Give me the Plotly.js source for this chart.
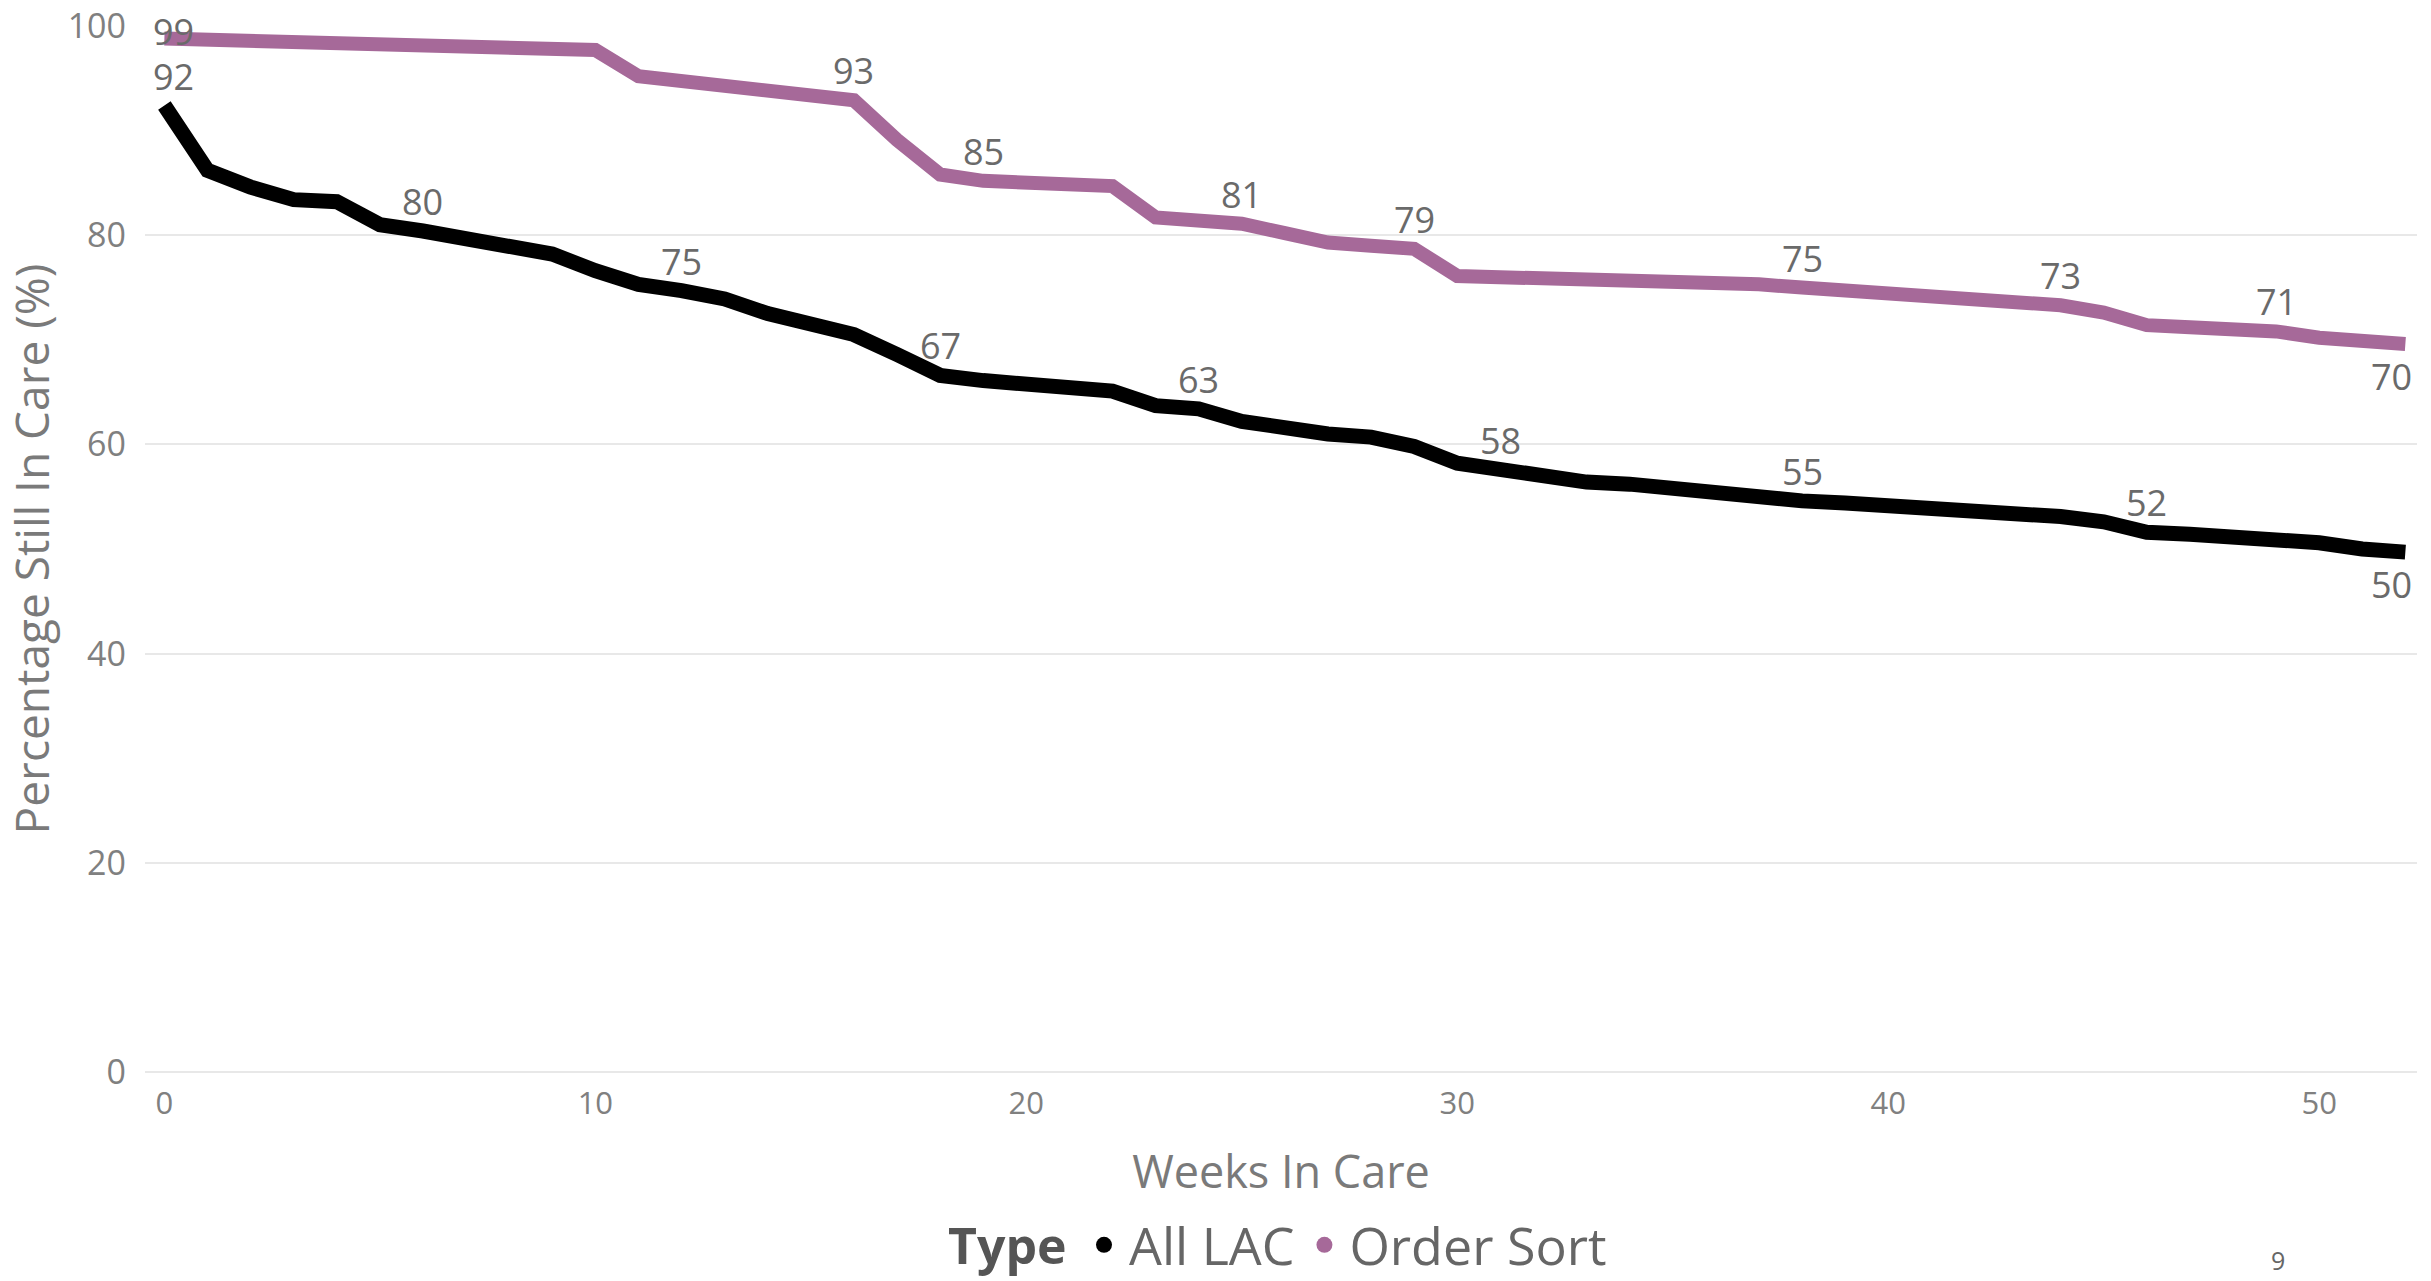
<!DOCTYPE html>
<html>
<head>
<meta charset="utf-8">
<script src="https://cdn.plot.ly/plotly-3.0.1.min.js"></script>
<style>
  html, body { margin: 0; padding: 0; background: #fff; }
  #chart { width: 2431px; height: 1281px; }
</style>
</head>
<body>
<div id="chart"></div>
<script>
// ---- data ----
const weeks = [0,1,2,3,4,5,6,7,8,9,10,11,12,13,14,15,16,17,18,19,20,21,22,23,24,25,26,27,28,29,30,31,32,33,34,35,36,37,38,39,40,41,42,43,44,45,46,47,48,49,50,51,52];

const allLAC = [92.4,86.2,84.6,83.4,83.2,81.0,80.4,79.6,79.0,78.2,76.6,75.3,74.7,73.9,72.5,71.6,70.5,68.6,66.6,66.1,65.8,65.5,65.1,63.7,63.4,62.2,61.5,61.0,60.7,59.8,58.2,57.6,57.0,56.4,56.2,55.8,55.3,54.8,54.6,54.4,54.2,54.0,53.7,53.4,53.1,52.6,51.6,51.4,51.2,51.0,50.6,50.0,49.7];

const orderSort = [98.8,98.7,98.6,98.5,98.4,98.3,98.2,98.1,98.0,97.9,97.7,95.2,94.7,94.2,93.8,93.4,92.9,89.1,85.8,85.2,85.0,84.9,84.7,81.7,81.4,81.1,80.2,79.3,79.0,78.7,76.1,76.0,75.9,75.9,75.8,75.7,75.6,75.3,75.0,74.7,74.4,74.1,73.8,73.6,73.3,72.6,71.4,71.2,71.0,70.8,70.2,69.8,69.6];

// weeks at which a data label is shown
const labelWeeksLAC = [0,6,12,18,24,31,38,46,52];
const labelWeeksOrder = [0,16,19,25,29,38,44,49,52];

const seriesNames = ['All LAC', 'Order Sort'];
const seriesColors = ['#000000', '#A66999'];
const legendTitle = 'Type';
const pageNumber = '9';
const xTicks = [0,10,20,30,40,50];
const yTicks = [0,20,40,60,80,100];

// ---- chart ----
const FONT = '"Open Sans", "Noto Sans", sans-serif';
const lastWeek = weeks[weeks.length - 1];

// plot-area geometry (pixels) used to place paper-referenced items
const PL = 145, PR = 2417, PB = 1072, PH = 1046;
const px = v => (v - PL) / (PR - PL);
const py = v => (PB - v) / PH;

const traces = [
  { x: weeks, y: allLAC, name: seriesNames[0], mode: 'lines', showlegend: false,
    line: { color: seriesColors[0], width: 15, shape: 'linear' }, cliponaxis: false },
  { x: weeks, y: orderSort, name: seriesNames[1], mode: 'lines', showlegend: false,
    line: { color: seriesColors[1], width: 14, shape: 'linear' }, cliponaxis: false },
  // legend entries (dots)
  { x: [null], y: [null], name: seriesNames[0], mode: 'markers', showlegend: true,
    marker: { color: seriesColors[0], size: 22 } },
  { x: [null], y: [null], name: seriesNames[1], mode: 'markers', showlegend: true,
    marker: { color: seriesColors[1], size: 22 } }
];

function makeLabels(values, labelWeeks) {
  return labelWeeks.map(w => {
    const v = values[weeks.indexOf(w)];
    const isLast = w === lastWeek;
    const isFirst = w === weeks[0];
    const nearTop = v > 96;
    const a = {
      x: w, y: v, xref: 'x', yref: 'y',
      text: String(Math.round(v)), showarrow: false,
      font: { family: FONT, size: 36, color: '#6a6a6a' },
      xanchor: 'center'
    };
    if (isLast) { a.yanchor = 'top'; a.yshift = -6; a.xshift = -14; }
    else if (nearTop) { a.yanchor = 'middle'; a.yshift = 7; }
    else { a.yanchor = 'bottom'; a.yshift = 3; }
    if (isFirst) a.xshift = 9;
    return a;
  });
}

const annotations = [
  ...makeLabels(allLAC, labelWeeksLAC),
  ...makeLabels(orderSort, labelWeeksOrder),
  { xref: 'paper', yref: 'paper', x: px(1069), y: py(1245),
    text: '<b>' + legendTitle + '</b>', showarrow: false, xanchor: 'right', yanchor: 'middle',
    font: { family: FONT, size: 50, color: '#555555' } },
  { xref: 'paper', yref: 'paper', x: px(2278), y: py(1260),
    text: pageNumber, showarrow: false, xanchor: 'center', yanchor: 'middle',
    font: { family: FONT, size: 25, color: '#666666' } }
];

const layout = {
  width: 2431, height: 1281,
  margin: { l: PL, r: 2431 - PR, t: 26, b: 1281 - PB, pad: 0, autoexpand: false },
  paper_bgcolor: '#ffffff', plot_bgcolor: '#ffffff',
  font: { family: FONT, color: '#777777' },
  showlegend: true,
  xaxis: {
    range: [-0.45, 52.27], tickvals: xTicks, ticktext: xTicks.map(String),
    showgrid: false, zeroline: false, showline: false, ticks: '',
    tickfont: { family: FONT, size: 31, color: '#808080' },
    ticklabelstandoff: 10,
    title: { text: 'Weeks In Care', font: { family: FONT, size: 45, color: '#7a7a7a' }, standoff: 34 }
  },
  yaxis: {
    range: [0, 100], tickvals: yTicks, ticktext: yTicks.map(String),
    showgrid: true, gridcolor: '#e8e8e8', gridwidth: 2,
    zeroline: true, zerolinecolor: '#e8e8e8', zerolinewidth: 2,
    showline: false, ticks: '',
    tickfont: { family: FONT, size: 34, color: '#808080' },
    ticklabelstandoff: 18,
    title: { text: 'Percentage Still In Care (%)', font: { family: FONT, size: 46, color: '#7a7a7a' }, standoff: 10 }
  },
  legend: {
    orientation: 'h', x: px(1079), xanchor: 'left', y: py(1245), yanchor: 'middle',
    font: { family: FONT, size: 52, color: '#666666' },
    itemwidth: 40,
    itemclick: false, itemdoubleclick: false, bgcolor: 'rgba(0,0,0,0)', tracegroupgap: 0
  },
  annotations: annotations,
  hovermode: false
};

Plotly.newPlot('chart', traces, layout, { displayModeBar: false, staticPlot: true });
</script>
</body>
</html>
